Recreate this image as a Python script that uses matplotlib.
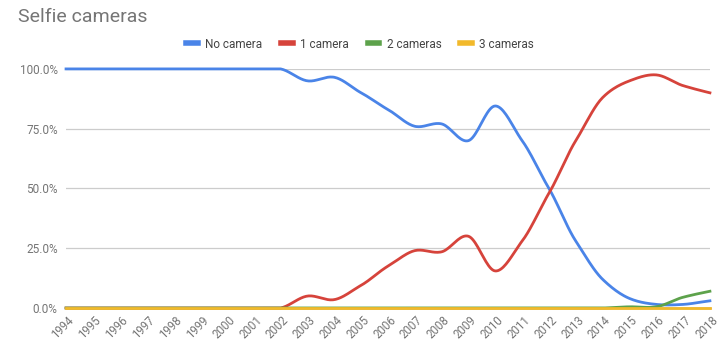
import numpy as np
import matplotlib.pyplot as plt
import matplotlib.transforms as mtransforms
from matplotlib.lines import Line2D

plt.rcParams['font.family'] = ['Roboto', 'DejaVu Sans']

years = list(range(1994, 2019))
no_camera = [100, 100, 100, 100, 100, 100, 100, 100, 100, 95, 96.5, 90, 83, 76, 77,
             70, 84.5, 70, 50, 28, 12, 4, 1.5, 1.5, 3]
one_camera = [0, 0, 0, 0, 0, 0, 0, 0, 0, 5, 3.5, 9.5, 17.5, 24, 23.5,
              30, 15.5, 28, 48, 70, 88, 95, 97.5, 93, 90]
two_cameras = [0, 0, 0, 0, 0, 0, 0, 0, 0, 0, 0, 0, 0, 0, 0,
               0, 0, 0, 0, 0, 0, 0.5, 0.5, 4.5, 7]
three_cameras = [0] * 25

names = ["No camera", "1 camera", "2 cameras", "3 cameras"]
colors = ["#4a84e8", "#d6433b", "#5da24b", "#f2b92b"]


def smooth(x, y, n=20):
    # cubic Hermite curve through the points, just for drawing
    x = np.asarray(x, float)
    y = np.asarray(y, float)
    m = np.gradient(y, x) * 0.9
    xs, ys = [], []
    for i in range(len(x) - 1):
        t = np.linspace(0, 1, n, endpoint=False)
        h = x[i + 1] - x[i]
        h00 = 2 * t**3 - 3 * t**2 + 1
        h10 = t**3 - 2 * t**2 + t
        h01 = -2 * t**3 + 3 * t**2
        h11 = t**3 - t**2
        xs.append(x[i] + t * h)
        ys.append(h00 * y[i] + h10 * h * m[i] + h01 * y[i + 1] + h11 * h * m[i + 1])
    xs.append([x[-1]])
    ys.append([y[-1]])
    return np.concatenate(xs), np.clip(np.concatenate(ys), 0, 100)


fig = plt.figure(figsize=(7.2, 3.47), dpi=100)
ax = fig.add_axes([0.0917, 0.1124, 0.8943, 0.689])

for vals, c in zip([no_camera, one_camera, two_cameras, three_cameras], colors):
    sx, sy = smooth(years, vals)
    ax.plot(sx, sy, color=c, lw=2, clip_on=False, zorder=3)

ax.set_xlim(1994, 2018)
ax.set_ylim(0, 100)
ax.set_yticks([0, 25, 50, 75, 100])
ax.set_yticklabels(["0.0%", "25.0%", "50.0%", "75.0%", "100.0%"])
ax.set_xticks(years)
ax.set_xticklabels([])
ax.tick_params(length=0, labelsize=8.5, colors="#757575", pad=6)

# rotated year labels, nudged right like the original
trans = ax.get_xaxis_transform() + mtransforms.ScaledTranslation(
    1 / 72, -4 / 72, fig.dpi_scale_trans)
for y in years:
    ax.text(y, 0, str(y), transform=trans, rotation=45, ha="right", va="top",
            rotation_mode="anchor", fontsize=8.3, color="#757575")

ax.grid(axis="y", color="#cccccc", lw=0.9)
ax.set_axisbelow(True)
for s in ["top", "right", "left"]:
    ax.spines[s].set_visible(False)
ax.spines["bottom"].set_color("#333333")
ax.spines["bottom"].set_linewidth(1)

fig.text(0.025, 0.95, "Selfie cameras", fontsize=14, color="#757575", va="center")

handles = [Line2D([], [], color=c, lw=4) for c in colors]
fig.legend(handles, names, loc="center", bbox_to_anchor=(0.5, 0.873), ncol=4,
           frameon=False, fontsize=8.5, handlelength=1.0, columnspacing=1.6,
           handletextpad=0.6, labelcolor="#444444")

fig.savefig("out.png", dpi=100)
